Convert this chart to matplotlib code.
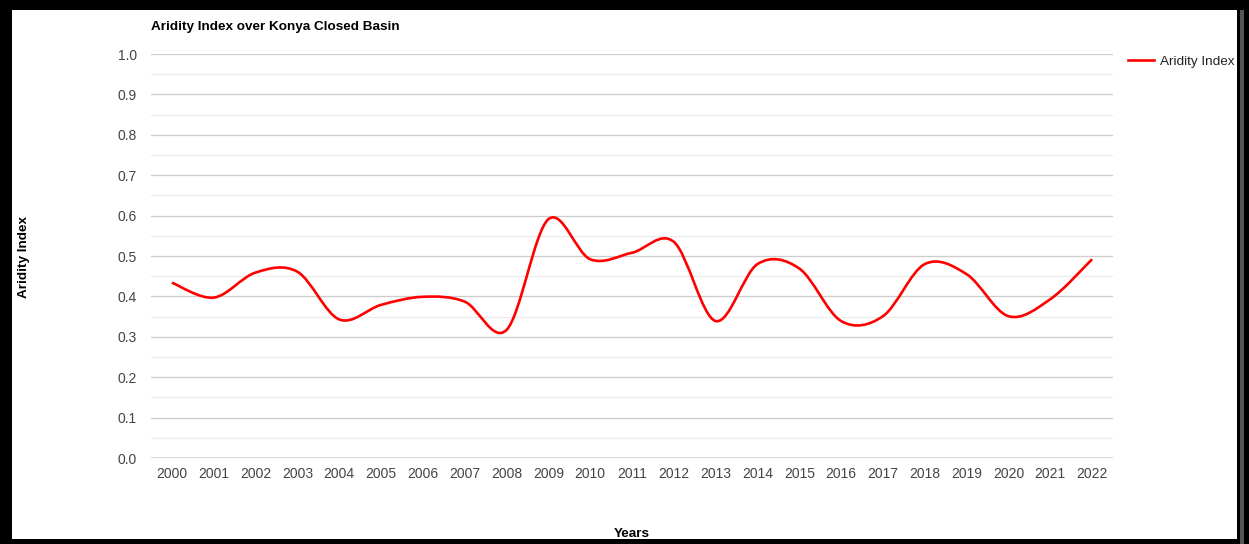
import numpy as np
import matplotlib.pyplot as plt
from matplotlib.path import Path
from matplotlib.patches import PathPatch, Rectangle
from matplotlib.lines import Line2D

plt.rcParams['font.family'] = ['Liberation Sans', 'DejaVu Sans']

years = list(range(2000, 2023))
aridity = [0.434, 0.397, 0.459, 0.461, 0.343, 0.379, 0.399, 0.387, 0.317,
           0.591, 0.492, 0.508, 0.535, 0.339, 0.480, 0.469, 0.339, 0.351,
           0.480, 0.455, 0.351, 0.393, 0.492]
yticks = [0.0, 0.1, 0.2, 0.3, 0.4, 0.5, 0.6, 0.7, 0.8, 0.9, 1.0]


def smooth_path(xs, ys, s=1/6):
    """Cubic bezier path through every point (catmull-rom style)."""
    pts = np.column_stack([xs, ys]).astype(float)
    n = len(pts)
    verts = [pts[0]]
    codes = [Path.MOVETO]
    for i in range(n - 1):
        p0 = pts[max(i - 1, 0)]
        p1 = pts[i]
        p2 = pts[i + 1]
        p3 = pts[min(i + 2, n - 1)]
        verts += [p1 + (p2 - p0) * s, p2 - (p3 - p1) * s, p2]
        codes += [Path.CURVE4] * 3
    return Path(verts, codes)


W, H = 1249, 544
fig = plt.figure(figsize=(W / 100, H / 100), dpi=100)
fig.patch.set_facecolor('black')

# white panel inside the thick black frame
fig.patches.append(Rectangle((12 / W, 5 / H), (1237 - 12) / W, (534 - 5) / H,
                             transform=fig.transFigure, facecolor='white',
                             edgecolor='none', zorder=0))
fig.patches.append(Rectangle((1240 / W, 0), 4 / W, 534 / H,
                             transform=fig.transFigure, facecolor='#555555',
                             edgecolor='none', zorder=0))

left, right = 151 / W, 1113 / W
bottom, top = 1 - 458 / H, 1 - 54 / H
ax = fig.add_axes([left, bottom, right - left, top - bottom])
ax.set_zorder(2)
ax.set_facecolor('white')

ax.set_xlim(2000 - 0.5, 2022 + 0.5)
ax.set_ylim(0, 1.0)

for v in np.arange(0.05, 1.0, 0.1):
    ax.axhline(v, color='#ebebeb', lw=0.9, zorder=1)
for v in yticks[1:]:
    ax.axhline(v, color='#cccccc', lw=0.9, zorder=1)
ax.axhline(0, color='#333333', lw=1.0, zorder=2)

ax.add_patch(PathPatch(smooth_path(years, aridity), facecolor='none',
                       edgecolor='#ff0000', lw=1.9, zorder=3,
                       capstyle='butt', clip_on=False))

for s in ax.spines.values():
    s.set_visible(False)
ax.set_yticks(yticks)
ax.set_yticklabels([f'{v:.1f}' for v in yticks])
ax.set_xticks(years)
ax.set_xticklabels([str(y) for y in years])
ax.tick_params(length=0, labelsize=10, colors='#444444')
ax.tick_params(axis='y', pad=10)
ax.tick_params(axis='x', pad=6.5)

fig.text(151 / W, 1 - 27 / H, 'Aridity Index over Konya Closed Basin',
         fontsize=9.7, fontweight='bold', va='center', ha='left', zorder=3)
fig.text(24 / W, 1 - 257 / H, 'Aridity Index', rotation=90, fontsize=9.7,
         fontweight='bold', va='center', ha='center', zorder=3)
fig.text(632 / W, 1 - 534 / H, 'Years', fontsize=9.7, fontweight='bold',
         va='center', ha='center', zorder=3)

fig.lines.append(Line2D([1128 / W, 1154 / W], [1 - 60 / H, 1 - 60 / H],
                        transform=fig.transFigure, color='#ff0000', lw=1.9,
                        zorder=3))
fig.text(1160 / W, 1 - 62 / H, 'Aridity Index', fontsize=9.7,
         color='#222222', va='center', ha='left', zorder=3)

fig.savefig('out.png', dpi=100, facecolor=fig.get_facecolor())
